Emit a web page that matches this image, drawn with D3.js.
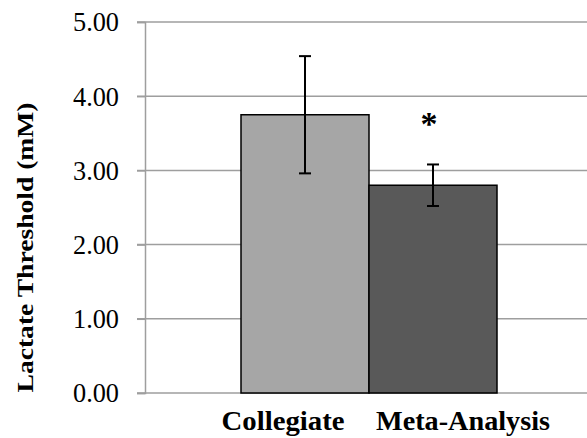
<!DOCTYPE html>
<html>
<head>
<meta charset="utf-8">
<script src="https://cdn.jsdelivr.net/npm/d3@7"></script>
<style>
  body { margin: 0; background: #fff; }
  text { font-family: "Liberation Serif", "DejaVu Serif", serif; }
</style>
</head>
<body>
<div id="chart"></div>
<script>
// data
var categories = ["Collegiate", "Meta-Analysis"];
var means = [3.75, 2.80];
var errors = [0.79, 0.28];
var barColors = ["#a6a6a6", "#595959"];
var significant = [false, true];
var yTicks = [0, 1, 2, 3, 4, 5];

var svgWidth = 587;
var svgHeight = 438;
var margin = { top: 22, right: -6, bottom: 45, left: 145 };

var width = svgWidth - margin.left - margin.right;
var height = svgHeight - margin.top - margin.bottom;

var svg = d3.select("#chart")
    .append("svg")
    .attr("width", svgWidth)
    .attr("height", svgHeight);

var chartGroup = svg.append("g")
    .attr("transform", `translate(${margin.left}, ${margin.top})`);

// scales
var xScale = d3.scaleBand()
    .domain(categories)
    .range([0, width])
    .paddingInner(0)
    .paddingOuter(0.75);

var yScale = d3.scaleLinear()
    .domain([0, 5])
    .range([height, 0]);

// gridlines
chartGroup.append("g")
    .selectAll("line")
    .data(yTicks)
    .enter()
    .append("line")
    .attr("x1", -8)
    .attr("x2", width)
    .attr("y1", d => yScale(d))
    .attr("y2", d => yScale(d))
    .attr("stroke", "#9e9e9e")
    .attr("stroke-width", 1.5);

// y axis
var leftAxis = d3.axisLeft(yScale)
    .tickValues(yTicks)
    .tickSize(8)
    .tickPadding(18)
    .tickFormat(d3.format(".2f"));

var yAxis = chartGroup.append("g").call(leftAxis);
yAxis.select(".domain").attr("stroke", "#9e9e9e").attr("stroke-width", 1.5);
yAxis.selectAll(".tick line").attr("stroke", "#9e9e9e").attr("stroke-width", 1.5);
yAxis.selectAll(".tick text")
    .attr("font-size", 28)
    .attr("fill", "#000")
    .attr("font-family", "'Liberation Serif', 'DejaVu Serif', serif")
    .attr("textLength", 46)
    .attr("lengthAdjust", "spacingAndGlyphs");

// bars
chartGroup.selectAll("rect.bar")
    .data(categories)
    .enter()
    .append("rect")
    .attr("class", "bar")
    .attr("x", d => xScale(d))
    .attr("y", (d, i) => yScale(means[i]))
    .attr("width", xScale.bandwidth())
    .attr("height", (d, i) => height - yScale(means[i]))
    .attr("fill", (d, i) => barColors[i])
    .attr("stroke", "#000")
    .attr("stroke-width", 1.5);

// error bars
var errGroup = chartGroup.selectAll("g.err")
    .data(categories)
    .enter()
    .append("g")
    .attr("class", "err")
    .attr("transform", d => `translate(${xScale(d) + xScale.bandwidth() / 2}, 0)`);

errGroup.append("line")
    .attr("y1", (d, i) => yScale(means[i] + errors[i]))
    .attr("y2", (d, i) => yScale(means[i] - errors[i]))
    .attr("stroke", "#000")
    .attr("stroke-width", 2);

errGroup.append("line")
    .attr("x1", -6).attr("x2", 6)
    .attr("y1", (d, i) => yScale(means[i] + errors[i]))
    .attr("y2", (d, i) => yScale(means[i] + errors[i]))
    .attr("stroke", "#000")
    .attr("stroke-width", 2);

errGroup.append("line")
    .attr("x1", -6).attr("x2", 6)
    .attr("y1", (d, i) => yScale(means[i] - errors[i]))
    .attr("y2", (d, i) => yScale(means[i] - errors[i]))
    .attr("stroke", "#000")
    .attr("stroke-width", 2);

// significance marker
errGroup.filter((d, i) => significant[i])
    .append("text")
    .attr("x", -4)
    .attr("y", (d) => yScale(means[categories.indexOf(d)] + errors[categories.indexOf(d)]) - 29)
    .attr("text-anchor", "middle")
    .attr("font-size", 34)
    .attr("font-weight", "bold")
    .text("*");

// category labels
var labelShift = [-22, 30];
var labelWidth = [123, 174];
chartGroup.selectAll("text.xlabel")
    .data(categories)
    .enter()
    .append("text")
    .attr("class", "xlabel")
    .attr("x", (d, i) => xScale(d) + xScale.bandwidth() / 2 + labelShift[i])
    .attr("y", height + 37)
    .attr("text-anchor", "middle")
    .attr("font-size", 27)
    .attr("font-weight", "bold")
    .attr("textLength", (d, i) => labelWidth[i])
    .attr("lengthAdjust", "spacingAndGlyphs")
    .text(d => d);

// y axis title
chartGroup.append("text")
    .attr("transform", `translate(${-112}, ${height / 2 + 40}) rotate(-90)`)
    .attr("text-anchor", "middle")
    .attr("font-size", 24)
    .attr("font-weight", "bold")
    .attr("textLength", 290)
    .attr("lengthAdjust", "spacingAndGlyphs")
    .text("Lactate Threshold (mM)");
</script>
</body>
</html>
